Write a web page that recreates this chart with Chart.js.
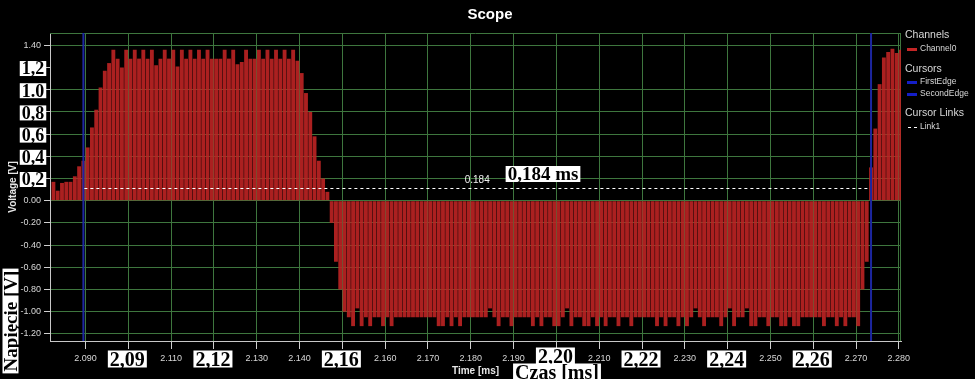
<!DOCTYPE html>
<html>
<head>
<meta charset="utf-8">
<script src="https://cdn.jsdelivr.net/npm/chart.js@4.4.1/dist/chart.umd.min.js"></script>
<style>
html,body{margin:0;padding:0;background:#000;overflow:hidden;}
canvas{display:block;}
</style>
</head>
<body>
<canvas id="c" width="975" height="379"></canvas>
<script>
// ---------- DATA ----------
const chartTitle = 'Scope';
const seriesName = 'Channel0';
const xAxisTitle = 'Time [ms]';
const yAxisTitle = 'Voltage [V]';
const sampleStart = 2.0825;   // ms, time of first sample
const sampleStep = 0.001;     // ms between samples
const channel0Volts = [
  0.17,0.09,0.16,0.17,0.17,0.22,0.31,0.36,0.48,0.66,
  0.82,1.02,1.17,1.24,1.36,1.28,1.20,1.36,1.28,1.36,
  1.28,1.36,1.28,1.36,1.22,1.28,1.36,1.28,1.36,1.21,
  1.36,1.28,1.36,1.28,1.36,1.28,1.36,1.28,1.28,1.28,
  1.36,1.28,1.36,1.23,1.25,1.36,1.28,1.28,1.36,1.28,
  1.36,1.28,1.36,1.28,1.36,1.28,1.36,1.26,1.15,0.97,
  0.80,0.58,0.36,0.20,0.08,-0.20,-0.55,-0.80,-1.00,-1.05,
  -1.13,-0.97,-1.13,-1.05,-1.13,-1.05,-1.05,-1.13,-1.05,-1.13,
  -1.05,-1.05,-1.05,-1.05,-1.05,-1.05,-1.05,-1.05,-1.05,-1.05,
  -1.13,-1.13,-1.05,-1.13,-1.05,-1.13,-1.05,-1.05,-1.05,-1.05,
  -1.05,-1.05,-0.97,-1.05,-1.13,-1.05,-1.05,-1.13,-1.05,-1.05,
  -1.05,-1.05,-1.13,-1.05,-1.13,-1.05,-1.05,-1.13,-1.13,-1.05,
  -0.97,-1.13,-1.05,-1.05,-1.13,-1.13,-1.05,-1.13,-1.05,-1.13,
  -1.05,-1.05,-1.13,-1.05,-1.05,-1.13,-1.05,-1.05,-1.05,-1.05,
  -1.05,-1.13,-1.05,-1.13,-1.05,-1.05,-1.13,-1.05,-1.13,-1.05,
  -0.97,-1.05,-1.13,-1.05,-1.05,-1.05,-1.13,-1.05,-0.97,-1.13,
  -1.05,-1.05,-0.97,-1.13,-1.13,-1.05,-1.05,-1.13,-1.05,-1.05,
  -1.13,-1.13,-1.05,-1.13,-1.13,-1.05,-1.05,-1.05,-1.05,-1.05,
  -1.13,-1.05,-1.05,-1.13,-1.05,-1.13,-1.05,-1.05,-1.13,-0.80,
  -0.55,0.30,0.65,1.05,1.29,1.34,1.37,1.33,1.36
];
const xTickValues = [2.09,2.10,2.11,2.12,2.13,2.14,2.15,2.16,2.17,2.18,2.19,2.20,2.21,2.22,2.23,2.24,2.25,2.26,2.27,2.28];
const yTickValues = [-1.2,-1.0,-0.8,-0.6,-0.4,-0.2,0,0.2,0.4,0.6,0.8,1.0,1.2,1.4];
const yGridHidden = [1.2];
const cursorNames = ['FirstEdge','SecondEdge'];
const cursorTimes = [2.0895, 2.2735];
const linkName = 'Link1';
const linkLevel = 0.117;
const linkLabel = '0.184';
const linkNote = '0,184 ms';
const yNoteValues = [1.2,1.0,0.8,0.6,0.4,0.2];
const yNoteLabels = ['1,2','1.0','0,8','0,6','0,4','0,2'];
const xNoteValues = [2.10,2.12,2.15,2.20,2.22,2.24,2.26];
const xNoteLabels = ['2,09','2,12','2,16','2,20','2,22','2,24','2,26'];
const xNoteTitle = 'Czas [ms]';
const yNoteTitle = 'Napięcie [V]';

// ---------- STYLE ----------
const SANS = "'Liberation Sans', Arial, sans-serif";
const SERIF = "'Liberation Serif', 'DejaVu Serif', serif";
const gridGreen = 'rgb(62,118,62)';
const barColor = 'rgba(190,36,36,0.9)';
const cursorColor = 'rgb(28,38,160)';
const textGray = '#d8d8d8';

const points = channel0Volts.map((v, i) => ({x: sampleStart + i * sampleStep, y: v}));

function note(ctx, text, cx, cy, size, rot) {
  ctx.save();
  ctx.translate(cx, cy);
  if (rot) ctx.rotate(rot);
  ctx.font = 'bold ' + size + 'px ' + SERIF;
  const w = ctx.measureText(text).width;
  const h = Math.round(size * 0.74) + 2;
  ctx.fillStyle = '#fff';
  ctx.fillRect(-w / 2 - 2, -h / 2, w + 4, h);
  ctx.fillStyle = '#000';
  ctx.textAlign = 'center';
  ctx.textBaseline = 'alphabetic';
  ctx.fillText(text, 0, size * 0.33);
  ctx.restore();
}

const decor = {
  id: 'decor',
  beforeDatasetsDraw(chart) {
    const {ctx, chartArea: a} = chart;
    ctx.save();
    ctx.strokeStyle = gridGreen;
    ctx.lineWidth = 1;
    ctx.beginPath();
    ctx.moveTo(a.left, a.top + 0.5); ctx.lineTo(a.right, a.top + 0.5);
    ctx.moveTo(a.right - 0.5, a.top); ctx.lineTo(a.right - 0.5, a.bottom);
    ctx.stroke();
    ctx.restore();
  },
  afterDatasetsDraw(chart) {
    const {ctx, chartArea: a, scales: {x, y}} = chart;
    ctx.save();
    ctx.strokeStyle = cursorColor;
    ctx.lineWidth = 2;
    const cx = cursorTimes.map(t => x.getPixelForValue(t));
    cx.forEach(px => { ctx.beginPath(); ctx.moveTo(px, a.top); ctx.lineTo(px, a.bottom); ctx.stroke(); });
    const ly = Math.round(y.getPixelForValue(linkLevel)) + 0.5;
    ctx.strokeStyle = '#ffffff';
    ctx.lineWidth = 1;
    ctx.setLineDash([3, 3]);
    ctx.beginPath(); ctx.moveTo(cx[0] + 1, ly); ctx.lineTo(cx[1] - 1, ly); ctx.stroke();
    ctx.setLineDash([]);
    ctx.fillStyle = '#f0f0f0';
    ctx.font = '10px ' + SANS;
    ctx.textAlign = 'center'; ctx.textBaseline = 'middle';
    ctx.fillText(linkLabel, (cx[0] + cx[1]) / 2, ly - 8);
    ctx.restore();
  },
  afterDraw(chart) {
    const {ctx, scales: {x, y}} = chart;
    ctx.save();
    ctx.fillStyle = '#ffffff';
    ctx.font = 'bold 15px ' + SANS;
    ctx.textAlign = 'center'; ctx.textBaseline = 'middle';
    ctx.fillText(chartTitle, 490, 15);
    ctx.textAlign = 'left';
    ctx.fillStyle = textGray;
    ctx.font = '10.5px ' + SANS;
    ctx.fillText('Channels', 905, 35);
    ctx.fillText('Cursors', 905, 69);
    ctx.fillText('Cursor Links', 905, 113);
    ctx.font = '8.5px ' + SANS;
    ctx.fillText(seriesName, 920, 49);
    ctx.fillText(cursorNames[0], 920, 82);
    ctx.fillText(cursorNames[1], 920, 94);
    ctx.fillText(linkName, 920, 127);
    ctx.fillStyle = 'rgb(196,38,38)'; ctx.fillRect(907, 48, 10, 3);
    ctx.fillStyle = 'rgb(20,30,200)'; ctx.fillRect(907, 81, 10, 3); ctx.fillRect(907, 93, 10, 3);
    ctx.fillStyle = '#ffffff'; ctx.fillRect(908, 127, 3, 1); ctx.fillRect(914, 127, 3, 1);
    ctx.restore();
    yNoteValues.forEach((v, i) => note(ctx, yNoteLabels[i], 33, y.getPixelForValue(v) + 1, 18));
    xNoteValues.forEach((v, i) => note(ctx, xNoteLabels[i], x.getPixelForValue(v) - 1, i === 3 ? 356 : 359, 20));
    note(ctx, linkNote, 543, 174, 19);
    note(ctx, xNoteTitle, 557, 372, 20);
    note(ctx, yNoteTitle, 10.5, 321, 19, -Math.PI / 2);
  }
};

new Chart(document.getElementById('c'), {
  type: 'bar',
  data: {
    datasets: [{
      label: seriesName,
      data: points,
      backgroundColor: barColor,
      borderWidth: 0,
      barPercentage: 1,
      categoryPercentage: 0.9,
      clip: 0
    }]
  },
  options: {
    responsive: false,
    animation: false,
    devicePixelRatio: 1,
    layout: {padding: {top: 33, right: 74, bottom: 0, left: 0}},
    plugins: {legend: {display: false}, title: {display: false}, tooltip: {enabled: false}},
    scales: {
      x: {
        type: 'linear', min: 2.0817, max: 2.2805, offset: false,
        grid: {color: gridGreen, offset: false, tickLength: 8, tickColor: '#d0d0d0', lineWidth: 1},
        border: {display: true, color: '#c8c8c8', width: 1},
        ticks: {autoSkip: false, maxRotation: 0, minRotation: 0, color: textGray, padding: 4,
                font: {size: 9, family: SANS}, callback: v => Number(v).toFixed(3)},
        title: {display: true, text: xAxisTitle, color: '#e6e6e6',
                font: {size: 10, weight: 'bold', family: SANS}, padding: {top: 0, bottom: 2}},
        afterBuildTicks: s => { s.ticks = xTickValues.map(v => ({value: v})); },
        afterFit: s => { s.height = 38; s.paddingLeft = 0; s.paddingRight = 0; }
      },
      y: {
        type: 'linear', min: -1.264, max: 1.511,
        grid: {
          color: c => (c.tick && yGridHidden.some(h => Math.abs(h - c.tick.value) < 1e-6)) ? 'rgba(0,0,0,0)' : gridGreen,
          tickLength: 6, tickColor: '#d0d0d0', lineWidth: 1
        },
        border: {display: true, color: '#c8c8c8', width: 1},
        ticks: {color: textGray, padding: 3, font: {size: 9, family: SANS},
                callback: v => Number(v).toFixed(2)},
        title: {display: true, text: yAxisTitle, color: '#e6e6e6',
                font: {size: 10, weight: 'bold', family: SANS}, padding: {top: 7, bottom: 0}},
        afterBuildTicks: s => { s.ticks = yTickValues.map(v => ({value: v})); },
        afterFit: s => { s.width = 50; s.paddingTop = 0; s.paddingBottom = 0; }
      }
    }
  },
  plugins: [decor]
});
</script>
</body>
</html>
